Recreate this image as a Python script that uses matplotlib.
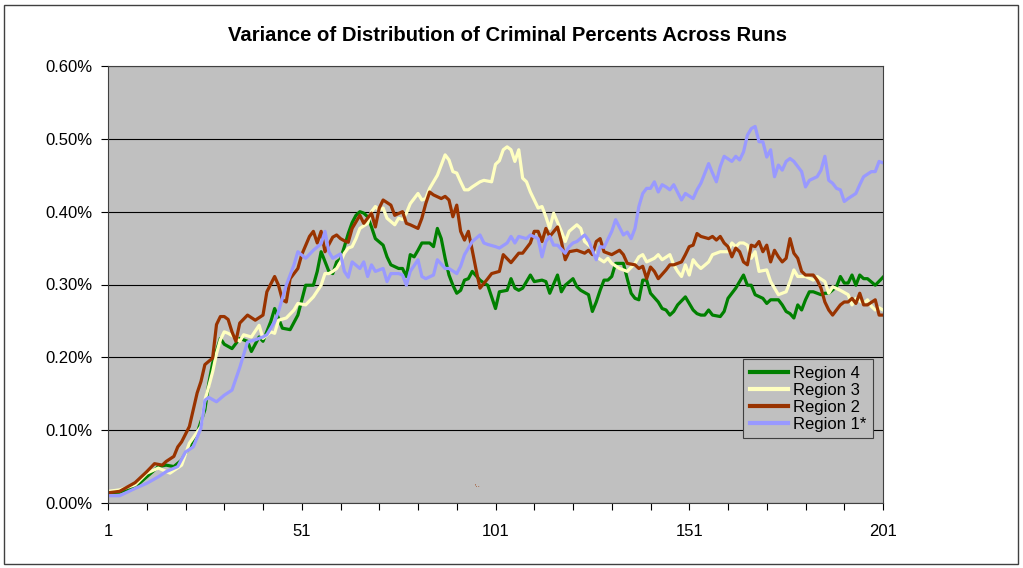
import matplotlib
matplotlib.use('Agg')
import matplotlib.pyplot as plt
from matplotlib.patches import Rectangle
from matplotlib.ticker import FixedLocator, FuncFormatter

plt.rcParams['font.family'] = ['Liberation Sans', 'DejaVu Sans']

# Values (variance, in percent)
r4_runs = [1, 4, 8, 11, 14, 16, 18, 20, 22, 24, 26, 27, 28, 30, 31, 33, 35, 37, 38, 40,
           41, 43, 44, 46, 48, 50, 52, 54, 55, 56, 58, 59, 60, 61, 62, 63, 64, 65, 66, 67,
           68, 69, 70, 72, 73, 74, 76, 77, 78, 79, 80, 81, 82, 84, 85, 86, 87, 88, 89, 90,
           91, 92, 93, 94, 95, 97, 98, 99, 101, 102, 104, 105, 106, 107, 108, 110, 111, 113, 114, 115,
           117, 118, 119, 121, 122, 123, 125, 126, 127, 128, 129, 130, 131, 132, 134, 135, 136, 137, 138, 139,
           140, 141, 143, 144, 145, 146, 147, 148, 150, 151, 152, 153, 154, 155, 156, 157, 159, 160, 161, 162,
           163, 165, 166, 167, 168, 170, 171, 172, 174, 175, 176, 177, 178, 179, 180, 181, 182, 183, 185, 186,
           187, 189, 190, 191, 192, 193, 194, 195, 196, 197, 199, 201]
r4_vals = [0.014, 0.015, 0.022, 0.036, 0.050, 0.052, 0.050, 0.059, 0.077, 0.096, 0.128, 0.164, 0.192, 0.226, 0.218, 0.212, 0.226, 0.222, 0.208, 0.228,
           0.222, 0.249, 0.267, 0.240, 0.238, 0.258, 0.299, 0.299, 0.318, 0.345, 0.318, 0.315, 0.331, 0.335, 0.352, 0.370, 0.385, 0.395, 0.400, 0.398,
           0.393, 0.379, 0.363, 0.354, 0.338, 0.327, 0.322, 0.322, 0.311, 0.341, 0.338, 0.347, 0.357, 0.357, 0.352, 0.377, 0.363, 0.336, 0.313, 0.299,
           0.288, 0.292, 0.306, 0.308, 0.318, 0.306, 0.302, 0.299, 0.267, 0.290, 0.292, 0.308, 0.295, 0.292, 0.295, 0.313, 0.304, 0.306, 0.304, 0.288,
           0.313, 0.290, 0.299, 0.308, 0.297, 0.292, 0.286, 0.263, 0.276, 0.292, 0.306, 0.306, 0.311, 0.329, 0.329, 0.308, 0.288, 0.281, 0.279, 0.306,
           0.306, 0.288, 0.276, 0.267, 0.265, 0.258, 0.263, 0.272, 0.283, 0.274, 0.265, 0.260, 0.258, 0.258, 0.265, 0.258, 0.256, 0.263, 0.281, 0.288,
           0.295, 0.313, 0.299, 0.299, 0.286, 0.281, 0.274, 0.279, 0.279, 0.272, 0.263, 0.260, 0.254, 0.272, 0.265, 0.279, 0.290, 0.290, 0.286, 0.288,
           0.288, 0.297, 0.311, 0.302, 0.302, 0.313, 0.299, 0.313, 0.308, 0.308, 0.299, 0.310]

r3_runs = [1, 4, 8, 11, 14, 17, 20, 22, 25, 26, 27, 28, 29, 30, 31, 32, 33, 35, 36, 38,
           40, 41, 43, 44, 45, 47, 49, 50, 52, 54, 56, 57, 58, 59, 60, 61, 62, 63, 64, 65,
           66, 68, 69, 70, 71, 72, 73, 75, 76, 77, 78, 79, 81, 82, 83, 84, 85, 86, 87, 88,
           89, 90, 91, 92, 93, 94, 95, 97, 98, 100, 101, 102, 103, 104, 105, 106, 107, 108, 109, 110,
           112, 113, 114, 115, 116, 118, 119, 120, 122, 123, 124, 126, 127, 129, 130, 131, 133, 135, 137, 138,
           139, 140, 142, 143, 144, 146, 147, 148, 149, 150, 151, 152, 153, 154, 156, 157, 158, 159, 161, 162,
           163, 164, 165, 166, 167, 168, 169, 171, 172, 173, 174, 176, 177, 178, 179, 181, 183, 184, 186, 187,
           188, 190, 192, 193, 194, 196, 197, 198, 199, 200, 201]
r3_vals = [0.016, 0.018, 0.025, 0.041, 0.048, 0.041, 0.052, 0.082, 0.105, 0.141, 0.160, 0.180, 0.205, 0.224, 0.235, 0.233, 0.230, 0.222, 0.231, 0.228,
           0.244, 0.226, 0.235, 0.233, 0.251, 0.254, 0.265, 0.274, 0.272, 0.283, 0.299, 0.315, 0.315, 0.318, 0.322, 0.331, 0.343, 0.350, 0.352, 0.363,
           0.377, 0.384, 0.400, 0.407, 0.402, 0.405, 0.391, 0.382, 0.391, 0.389, 0.398, 0.411, 0.425, 0.416, 0.418, 0.432, 0.441, 0.450, 0.464, 0.478,
           0.471, 0.455, 0.453, 0.441, 0.430, 0.430, 0.434, 0.441, 0.443, 0.441, 0.465, 0.470, 0.485, 0.489, 0.485, 0.469, 0.485, 0.446, 0.441, 0.427,
           0.405, 0.407, 0.393, 0.377, 0.398, 0.373, 0.359, 0.373, 0.382, 0.377, 0.359, 0.350, 0.338, 0.331, 0.336, 0.329, 0.322, 0.318, 0.329, 0.338,
           0.341, 0.331, 0.336, 0.341, 0.334, 0.341, 0.327, 0.318, 0.311, 0.327, 0.313, 0.334, 0.327, 0.322, 0.331, 0.341, 0.343, 0.345, 0.345, 0.357,
           0.352, 0.357, 0.357, 0.354, 0.336, 0.345, 0.318, 0.320, 0.304, 0.295, 0.286, 0.290, 0.304, 0.320, 0.311, 0.311, 0.306, 0.311, 0.304, 0.288,
           0.297, 0.292, 0.286, 0.272, 0.281, 0.274, 0.279, 0.270, 0.265, 0.268, 0.265]

r2_runs = [1, 4, 8, 11, 13, 15, 16, 18, 19, 20, 22, 24, 25, 26, 28, 29, 30, 31, 32, 33,
           34, 35, 37, 39, 41, 42, 44, 45, 46, 47, 48, 50, 51, 53, 54, 55, 56, 57, 58, 59,
           60, 61, 62, 63, 64, 66, 67, 69, 70, 71, 72, 74, 75, 77, 78, 79, 81, 82, 83, 84,
           85, 87, 88, 89, 90, 91, 92, 93, 94, 95, 96, 97, 99, 100, 102, 103, 105, 107, 108, 110,
           111, 112, 113, 114, 115, 117, 118, 119, 120, 122, 124, 125, 126, 127, 128, 129, 130, 131, 133, 134,
           135, 137, 138, 139, 140, 141, 142, 143, 145, 146, 147, 149, 150, 151, 152, 153, 154, 156, 157, 158,
           159, 160, 161, 162, 163, 164, 165, 166, 167, 168, 169, 170, 171, 172, 173, 174, 175, 176, 177, 178,
           179, 180, 181, 183, 184, 185, 186, 187, 188, 190, 191, 192, 193, 194, 195, 196, 197, 199, 200, 201]
r2_vals = [0.014, 0.016, 0.028, 0.043, 0.054, 0.052, 0.057, 0.064, 0.077, 0.084, 0.105, 0.151, 0.167, 0.190, 0.199, 0.245, 0.256, 0.256, 0.252, 0.235,
           0.222, 0.247, 0.258, 0.251, 0.258, 0.290, 0.311, 0.299, 0.279, 0.276, 0.308, 0.322, 0.341, 0.366, 0.373, 0.357, 0.373, 0.345, 0.355, 0.365,
           0.368, 0.363, 0.360, 0.358, 0.377, 0.395, 0.384, 0.398, 0.379, 0.405, 0.416, 0.409, 0.395, 0.400, 0.384, 0.382, 0.377, 0.391, 0.411, 0.427,
           0.423, 0.418, 0.421, 0.416, 0.393, 0.409, 0.373, 0.361, 0.373, 0.347, 0.320, 0.295, 0.308, 0.315, 0.318, 0.341, 0.330, 0.343, 0.343, 0.357,
           0.373, 0.373, 0.359, 0.377, 0.366, 0.379, 0.359, 0.334, 0.345, 0.347, 0.343, 0.347, 0.341, 0.359, 0.363, 0.345, 0.343, 0.341, 0.347, 0.341,
           0.329, 0.327, 0.322, 0.325, 0.308, 0.324, 0.318, 0.308, 0.320, 0.327, 0.327, 0.331, 0.341, 0.352, 0.354, 0.370, 0.366, 0.363, 0.366, 0.361,
           0.366, 0.357, 0.352, 0.338, 0.350, 0.345, 0.331, 0.327, 0.354, 0.352, 0.359, 0.345, 0.354, 0.331, 0.347, 0.338, 0.331, 0.336, 0.363, 0.343,
           0.336, 0.318, 0.313, 0.313, 0.306, 0.295, 0.276, 0.265, 0.258, 0.272, 0.276, 0.276, 0.281, 0.274, 0.288, 0.272, 0.272, 0.279, 0.258, 0.258]

r1_runs = [1, 4, 8, 11, 14, 16, 19, 21, 23, 25, 26, 27, 29, 31, 33, 35, 37, 39, 41, 42,
           44, 45, 47, 49, 50, 52, 54, 56, 57, 58, 59, 61, 62, 63, 64, 66, 67, 68, 69, 70,
           72, 73, 74, 76, 77, 78, 79, 81, 82, 83, 85, 86, 88, 89, 91, 92, 93, 95, 97, 98,
           99, 101, 102, 104, 105, 106, 107, 109, 110, 112, 113, 114, 115, 116, 117, 119, 120, 121, 122, 124,
           125, 127, 128, 129, 131, 132, 134, 135, 136, 137, 138, 139, 140, 141, 142, 143, 144, 145, 146, 147,
           149, 150, 152, 153, 154, 156, 157, 158, 159, 160, 162, 163, 164, 165, 166, 167, 168, 169, 170, 171,
           172, 173, 174, 175, 176, 177, 178, 180, 181, 182, 184, 185, 186, 187, 188, 189, 190, 191, 192, 194,
           195, 196, 198, 199, 200, 201]
r1_vals = [0.010, 0.010, 0.020, 0.027, 0.036, 0.043, 0.050, 0.070, 0.077, 0.103, 0.141, 0.145, 0.139, 0.148, 0.155, 0.186, 0.221, 0.224, 0.228, 0.231,
           0.249, 0.263, 0.299, 0.327, 0.345, 0.336, 0.347, 0.356, 0.373, 0.345, 0.336, 0.342, 0.318, 0.310, 0.331, 0.322, 0.331, 0.311, 0.327, 0.318,
           0.322, 0.304, 0.315, 0.315, 0.313, 0.299, 0.318, 0.334, 0.311, 0.308, 0.313, 0.334, 0.322, 0.322, 0.315, 0.325, 0.341, 0.359, 0.368, 0.357,
           0.355, 0.352, 0.350, 0.357, 0.366, 0.357, 0.366, 0.363, 0.368, 0.363, 0.338, 0.359, 0.366, 0.354, 0.354, 0.343, 0.352, 0.357, 0.359, 0.368,
           0.361, 0.334, 0.352, 0.351, 0.373, 0.389, 0.368, 0.372, 0.363, 0.377, 0.407, 0.425, 0.432, 0.432, 0.441, 0.427, 0.437, 0.434, 0.430, 0.437,
           0.416, 0.425, 0.418, 0.430, 0.439, 0.466, 0.453, 0.441, 0.462, 0.476, 0.469, 0.476, 0.471, 0.482, 0.505, 0.514, 0.517, 0.496, 0.496, 0.475,
           0.485, 0.448, 0.464, 0.457, 0.469, 0.473, 0.469, 0.455, 0.434, 0.443, 0.448, 0.457, 0.476, 0.443, 0.439, 0.432, 0.430, 0.414, 0.418, 0.425,
           0.437, 0.448, 0.455, 0.455, 0.469, 0.467]

series = [
    ('Region 4', r4_runs, r4_vals, '#008000'),
    ('Region 3', r3_runs, r3_vals, '#FFFFC0'),
    ('Region 2', r2_runs, r2_vals, '#993300'),
    ('Region 1*', r1_runs, r1_vals, '#9999FF'),
]

fig = plt.figure(figsize=(10.23, 5.68), dpi=100)
ax = fig.add_axes([108 / 1023, 1 - 503 / 568, 775 / 1023, 437 / 568])
ax.set_facecolor('#C0C0C0')

# outer chart border
fig.patches.append(Rectangle((4 / 1023, 4 / 568), 1014 / 1023, 559 / 568,
                             transform=fig.transFigure, fill=False,
                             edgecolor='#404040', linewidth=1.0))

for name, runs, vals, color in series:
    ax.plot(runs, vals, color=color, linewidth=2.3, label=name, solid_joinstyle='round')

ax.set_xlim(1, 201)
ax.set_ylim(0, 0.6)

ax.yaxis.set_major_locator(FixedLocator([0.0, 0.1, 0.2, 0.3, 0.4, 0.5, 0.6]))
ax.yaxis.set_major_formatter(FuncFormatter(lambda v, p: f'{v:.2f}%'))
ax.grid(axis='y', color='black', linewidth=0.8)
ax.set_axisbelow(True)

ax.xaxis.set_major_locator(FixedLocator([1, 51, 101, 151, 201]))
ax.xaxis.set_minor_locator(FixedLocator(list(range(1, 202, 10))))
ax.tick_params(axis='x', which='both', direction='out', length=5, width=0.8, pad=10, labelsize=12)
ax.tick_params(axis='y', which='major', direction='out', length=5, width=0.8, pad=6, labelsize=12)

for s in ax.spines.values():
    s.set_color('#404040')
    s.set_linewidth(0.8)

fig.text(0.4965, 1 - 41 / 568, 'Variance of Distribution of Criminal Percents Across Runs',
         ha='center', va='baseline', fontsize=14.6, fontweight='bold')

# small stray mark inside the plot area of the original
ax.text(96.5, 0.022, "'\u00b7\u00b7", color='#993300', fontsize=5, ha='center', va='center')

leg = ax.legend(loc='upper left', bbox_to_anchor=(0.8194, 0.3295), frameon=True,
                fancybox=False, facecolor='#C0C0C0', edgecolor='#404040',
                fontsize=12, handlelength=2.3, labelspacing=0.12,
                borderpad=0.4, handletextpad=0.3, borderaxespad=0)
leg.get_frame().set_linewidth(0.8)
leg.get_frame().set_alpha(1)
for line in leg.get_lines():
    line.set_linewidth(3)

fig.savefig('out.png', dpi=100, facecolor='white')
